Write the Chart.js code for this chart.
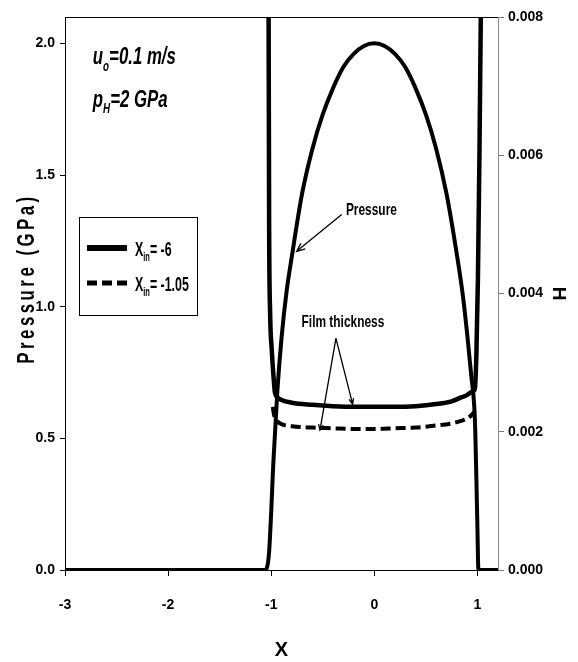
<!DOCTYPE html>
<html>
<head>
<meta charset="utf-8">
<script src="https://cdn.jsdelivr.net/npm/chart.js@4.4.1/dist/chart.umd.min.js"></script>
<style>
  body { margin: 0; background: #fff; }
  #wrap { width: 578px; height: 662px; }
</style>
</head>
<body>
<div id="wrap"><canvas id="chart" width="578" height="662"></canvas></div>
<script>
const FONT = "'Liberation Sans', Arial, sans-serif";

// tick labels
const xTicks = [-3, -2, -1, 0, 1];
const pTicks = [0, 0.5, 1.0, 1.5, 2.0];
const hTicks = [0, 0.002, 0.004, 0.006, 0.008];

// pressure (GPa), same for both inlet positions
const presX = [-3, -2, -1.2, -1.06, -1.04, -1.02, -1.0, -0.98, -0.96, -0.94, -0.9, -0.85, -0.8, -0.7, -0.6, -0.5, -0.4, -0.3, -0.2, -0.1,
    0, 0.1, 0.2, 0.3, 0.4, 0.5, 0.6, 0.7, 0.8, 0.86, 0.9, 0.94, 0.97, 0.98, 0.99, 1.0, 1.01, 1.1, 1.2];
const presVal = [0, 0, 0, 0, 0.01, 0.07, 0.22, 0.40, 0.54, 0.68, 0.88, 1.06, 1.19, 1.43, 1.60, 1.73, 1.83, 1.91, 1.96, 1.99,
    2.0, 1.99, 1.96, 1.91, 1.83, 1.73, 1.60, 1.43, 1.20, 1.04, 0.90, 0.74, 0.62, 0.52, 0.35, 0.17, 0, 0, 0];

// film thickness H, X_in = -6
const filmX = [-1.035, -1.025, -1.02, -1.01, -0.995, -0.975, -0.965, -0.94, -0.9, -0.8, -0.6, -0.4, -0.2, 0, 0.2, 0.4, 0.6, 0.75, 0.85, 0.9,
    0.95, 0.975, 0.99, 1.005, 1.02, 1.033, 1.045];
const filmVal = [0.0110, 0.0080, 0.0050, 0.0037, 0.0032, 0.00275, 0.00258, 0.00250, 0.00246, 0.00242, 0.00239, 0.00237, 0.00236, 0.00236,
    0.00236, 0.00237, 0.00240, 0.00244, 0.00250, 0.00253, 0.00258, 0.00262, 0.0031, 0.0042, 0.0060, 0.0080, 0.0105];

// film thickness H, X_in = -1.05
const film2X = [-0.985, -0.97, -0.94, -0.9, -0.8, -0.6, -0.4, -0.2, 0, 0.2, 0.4, 0.6, 0.75, 0.85, 0.9, 0.95, 0.975];
const film2Val = [0.00236, 0.00223, 0.00215, 0.00211, 0.00208, 0.00206, 0.00205, 0.00204, 0.00204, 0.00205, 0.00206, 0.00209,
    0.00212, 0.00216, 0.00219, 0.00225, 0.00230];

const toPoints = (xs, ys) => xs.map((x, i) => ({ x, y: ys[i] }));

// text with subscripts, squeezed horizontally for a narrow-font look
const drawParts = (ctx, parts, x, y, size, style, squeeze) => {
    ctx.save();
    ctx.translate(x, y);
    ctx.scale(squeeze, 1);
    let cx = 0;
    parts.forEach(([text, sub]) => {
        const s = sub ? Math.round(size * 0.6) : size;
        ctx.font = `${style} ${s}px ${FONT}`;
        ctx.fillText(text, cx, sub ? size * 0.27 : 0);
        cx += ctx.measureText(text).width;
    });
    ctx.restore();
};

const drawArrow = (ctx, x1, y1, x2, y2, head) => {
    const a = Math.atan2(y2 - y1, x2 - x1);
    ctx.beginPath();
    ctx.moveTo(x1, y1);
    ctx.lineTo(x2, y2);
    ctx.moveTo(x2 - head * Math.cos(a - 0.4), y2 - head * Math.sin(a - 0.4));
    ctx.lineTo(x2, y2);
    ctx.lineTo(x2 - head * Math.cos(a + 0.4), y2 - head * Math.sin(a + 0.4));
    ctx.stroke();
};

const decorPlugin = {
    id: 'decor',
    afterDraw(chart) {
        const { ctx, chartArea, scales } = chart;
        const sx = scales.x, sp = scales.yP, sh = scales.yH;
        ctx.save();

        // top frame line
        ctx.strokeStyle = '#000';
        ctx.lineWidth = 1;
        ctx.beginPath();
        ctx.moveTo(chartArea.left, chartArea.top + 0.5);
        ctx.lineTo(chartArea.right, chartArea.top + 0.5);
        ctx.stroke();

        // left axis title with wide letter spacing
        ctx.save();
        ctx.translate(27, (chartArea.top + chartArea.bottom) / 2 - 15);
        ctx.rotate(-Math.PI / 2);
        ctx.scale(0.7, 1);
        ctx.font = `bold 24px ${FONT}`;
        ctx.letterSpacing = '5px';
        ctx.textAlign = 'center';
        ctx.textBaseline = 'middle';
        ctx.fillStyle = '#000';
        ctx.fillText('Pressure (GPa)', 0, 0);
        ctx.restore();

        ctx.fillStyle = '#000';
        ctx.textAlign = 'left';
        ctx.textBaseline = 'alphabetic';

        // condition labels
        drawParts(ctx, [['u'], ['o', true], ['=0.1 m/s']], sx.getPixelForValue(-2.73), sp.getPixelForValue(1.92), 24, 'italic bold', 0.7);
        drawParts(ctx, [['p'], ['H', true], ['=2 GPa']], sx.getPixelForValue(-2.73), sp.getPixelForValue(1.76), 24, 'italic bold', 0.7);

        // legend box
        ctx.strokeStyle = '#000';
        ctx.lineWidth = 1;
        ctx.strokeRect(79.5, 217.5, 118, 98);
        const items = chart.data.datasets.filter(d => d.legendText);
        items.forEach((d, i) => {
            const yy = 248 + i * 35;
            ctx.save();
            ctx.lineWidth = d.legendWidth;
            ctx.setLineDash(d.borderDash || []);
            ctx.beginPath();
            ctx.moveTo(87, yy);
            ctx.lineTo(127, yy);
            ctx.stroke();
            ctx.restore();
            drawParts(ctx, d.legendText, 135, yy + 8, 20, 'bold', 0.62);
        });

        // annotations
        drawParts(ctx, [['Pressure']], sx.getPixelForValue(-0.275), sp.getPixelForValue(1.35), 17, 'bold', 0.7);
        drawParts(ctx, [['Film thickness']], sx.getPixelForValue(-0.705), sp.getPixelForValue(0.924), 17, 'bold', 0.7);
        ctx.lineWidth = 1.3;
        drawArrow(ctx, sx.getPixelForValue(-0.316), sp.getPixelForValue(1.35), sx.getPixelForValue(-0.753), sp.getPixelForValue(1.21), 9);
        const ax = sx.getPixelForValue(-0.372), ay = sh.getPixelForValue(0.00335);
        drawArrow(ctx, ax, ay, sx.getPixelForValue(-0.527), sh.getPixelForValue(0.002025), 6);
        drawArrow(ctx, ax, ay, sx.getPixelForValue(-0.21), sh.getPixelForValue(0.0024), 6);

        ctx.restore();
    }
};

const tickFont = { family: FONT, size: 14, weight: 'bold' };

new Chart(document.getElementById('chart'), {
    type: 'line',
    data: {
        datasets: [{
            label: 'Pressure',
            data: toPoints(presX, presVal),
            yAxisID: 'yP',
            borderColor: '#000',
            borderWidth: 4,
            pointRadius: 0,
            cubicInterpolationMode: 'monotone'
        }, {
            label: 'H, Xin = -6',
            legendText: [['X'], ['in', true], ['= -6']],
            legendWidth: 6,
            data: toPoints(filmX, filmVal),
            yAxisID: 'yH',
            borderColor: '#000',
            borderWidth: 4.5,
            pointRadius: 0,
            cubicInterpolationMode: 'monotone'
        }, {
            label: 'H, Xin = -1.05',
            legendText: [['X'], ['in', true], ['= -1.05']],
            legendWidth: 5,
            data: toPoints(film2X, film2Val),
            yAxisID: 'yH',
            borderColor: '#000',
            borderWidth: 4,
            borderDash: [10, 5],
            pointRadius: 0,
            cubicInterpolationMode: 'monotone'
        }]
    },
    options: {
        responsive: false,
        animation: false,
        layout: { padding: { top: 17, left: 0, right: 0, bottom: 0 } },
        plugins: {
            legend: { display: false },
            tooltip: { enabled: false }
        },
        scales: {
            x: {
                type: 'linear',
                min: -3,
                max: 1.2,
                afterFit: s => { s.height = 92; },
                afterBuildTicks: s => { s.ticks = xTicks.map(v => ({ value: v })); },
                grid: { display: true, drawOnChartArea: false, drawTicks: true, tickLength: 6, color: '#000' },
                border: { display: true, color: '#000', width: 1 },
                ticks: { color: '#000', font: tickFont, padding: 21, maxRotation: 0, callback: v => String(v) },
                title: { display: true, text: 'X', color: '#000', font: { family: FONT, size: 20, weight: 'bold' }, padding: { top: 0, bottom: 0 } }
            },
            yP: {
                type: 'linear',
                position: 'left',
                min: 0,
                max: 2.1,
                afterFit: s => { s.width = 65; },
                afterBuildTicks: s => { s.ticks = pTicks.map(v => ({ value: v })); },
                grid: { display: true, drawOnChartArea: false, drawTicks: true, tickLength: 5, color: '#000' },
                border: { display: true, color: '#000', width: 1 },
                ticks: { color: '#000', font: tickFont, padding: 5, callback: v => v.toFixed(1) }
            },
            yH: {
                type: 'linear',
                position: 'right',
                min: 0,
                max: 0.008,
                afterFit: s => { s.width = 80; },
                afterBuildTicks: s => { s.ticks = hTicks.map(v => ({ value: v })); },
                grid: { display: true, drawOnChartArea: false, drawTicks: true, tickLength: 6, color: '#777' },
                border: { display: true, color: '#888', width: 1 },
                ticks: { color: '#000', font: tickFont, padding: 4, callback: v => v.toFixed(3) },
                title: { display: true, text: 'H', color: '#000', font: { family: FONT, size: 19, weight: 'bold' }, padding: { top: 8, bottom: 0 } }
            }
        }
    },
    plugins: [decorPlugin]
});
</script>
</body>
</html>
